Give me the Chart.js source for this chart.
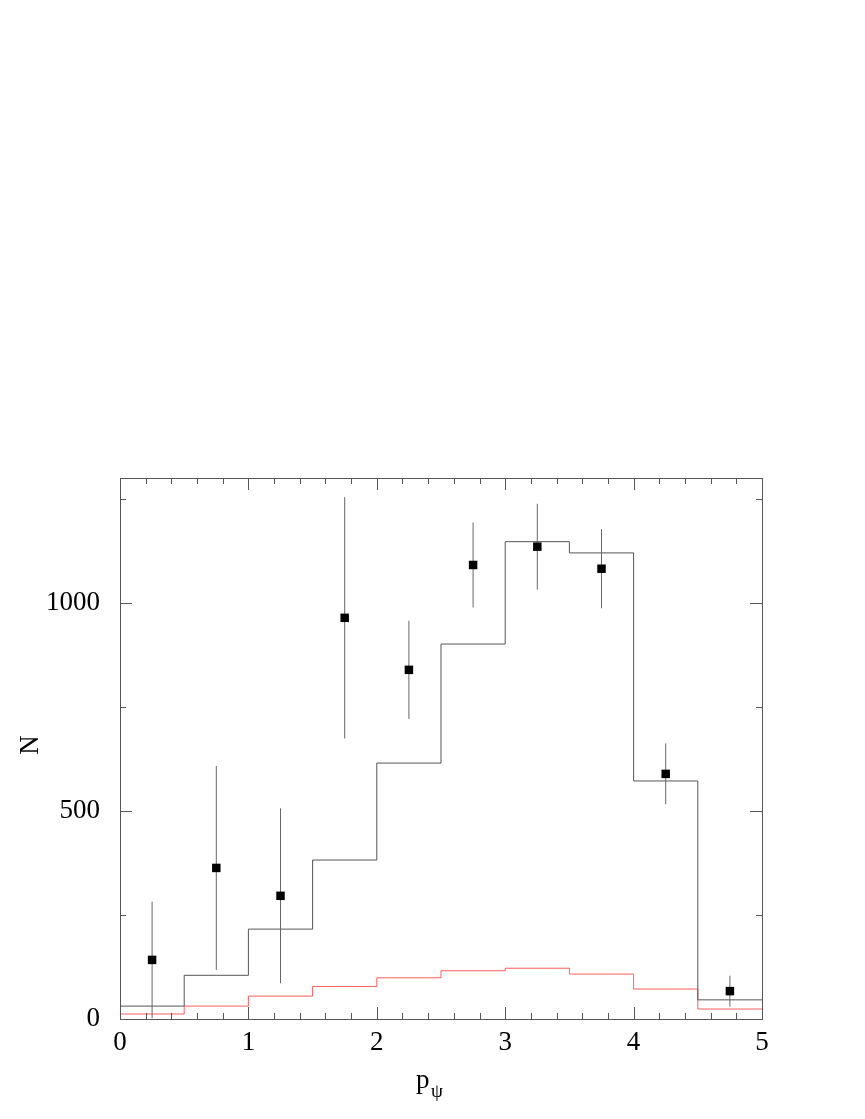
<!DOCTYPE html>
<html>
<head>
<meta charset="utf-8">
<script src="https://cdn.jsdelivr.net/npm/chart.js@4"></script>
<style>
  body { margin: 0; background: #fff; }
  canvas { display: block; }
</style>
</head>
<body>
<canvas id="psiChart" width="865" height="1119"></canvas>
<script>
// bin edges (GeV) and measured points
var binEdges = [0, 0.5, 1, 1.5, 2, 2.5, 3, 3.5, 4, 4.5, 5];
var dataX = [0.25, 0.75, 1.25, 1.75, 2.25, 2.75, 3.25, 3.75, 4.25, 4.75];
var dataY = [142, 363, 296, 964, 839, 1091, 1135, 1082, 589, 67];
var dataErr = [140, 245, 210, 290, 118, 102, 103, 95, 73, 37];
// histograms, one value per bin
var mcTotal = [31, 105, 216, 382, 615, 901, 1147, 1120, 572, 46];
var mcRed = [12, 31, 55, 78, 99, 116, 122, 108, 72, 24];
var xTicks = [0, 1, 2, 3, 4, 5];
var yTicks = [0, 500, 1000];

var serif = "'Liberation Serif', 'DejaVu Serif', serif";

function histPoints(vals) {
    var pts = [];
    for (var i = 0; i < vals.length; i++) {
        pts.push({ x: binEdges[i], y: vals[i] });
    }
    pts.push({ x: binEdges[binEdges.length - 1], y: vals[vals.length - 1] });
    return pts;
}

var errPts = [];
for (var i = 0; i < dataX.length; i++) {
    errPts.push({ x: dataX[i], y: Math.max(0, dataY[i] - dataErr[i]) });
    errPts.push({ x: dataX[i], y: dataY[i] + dataErr[i] });
    errPts.push({ x: dataX[i], y: null });
}

var markPts = dataX.map(function (x, i) { return { x: x, y: dataY[i] }; });

// frame, inside ticks on all sides, axis titles
var framePlugin = {
    id: 'frame',
    afterDraw: function (chart) {
        var c = chart.ctx, a = chart.chartArea;
        var xs = chart.scales.x, ys = chart.scales.y;
        c.save();
        c.strokeStyle = '#555';
        c.lineWidth = 1;
        c.strokeRect(a.left + 0.5, a.top + 0.5, a.right - a.left, a.bottom - a.top);
        c.beginPath();
        for (var v = 0; v <= 5.0001; v += 0.2) {
            var px = Math.round(xs.getPixelForValue(v)) + 0.5;
            var len = Math.abs(v - Math.round(v)) < 0.01 ? 12 : 6;
            c.moveTo(px, a.bottom); c.lineTo(px, a.bottom - len);
            c.moveTo(px, a.top); c.lineTo(px, a.top + len);
        }
        for (var n = 0; n <= 1300; n += 250) {
            var py = Math.round(ys.getPixelForValue(n)) + 0.5;
            var l2 = n % 500 === 0 ? 12 : 6;
            c.moveTo(a.left, py); c.lineTo(a.left + l2, py);
            c.moveTo(a.right, py); c.lineTo(a.right - l2, py);
        }
        c.stroke();

        c.fillStyle = '#000';
        c.textBaseline = 'alphabetic';
        c.textAlign = 'left';
        c.font = '27px ' + serif;
        c.fillText('p', 416, 1088);
        c.font = '19px ' + serif;
        c.fillText('\u03c8', 431, 1097);

        c.font = '27px ' + serif;
        c.translate(38, 745);
        c.rotate(-Math.PI / 2);
        c.textAlign = 'center';
        c.fillText('N', 0, 0);
        c.restore();
    }
};

var ctx = document.getElementById('psiChart').getContext('2d');
var psiChart = new Chart(ctx, {
    type: 'line',
    data: {
        datasets: [{
            label: 'data',
            data: markPts,
            showLine: false,
            pointStyle: 'rect',
            pointRadius: 6,
            pointBackgroundColor: '#000',
            pointBorderColor: '#000',
            pointBorderWidth: 0
        }, {
            label: 'errors',
            data: errPts,
            borderColor: '#666',
            borderWidth: 1,
            pointRadius: 0,
            spanGaps: false,
            fill: false
        }, {
            label: 'total',
            data: histPoints(mcTotal),
            stepped: 'before',
            borderColor: '#555',
            borderWidth: 1,
            pointRadius: 0,
            fill: false
        }, {
            label: 'red',
            data: histPoints(mcRed),
            stepped: 'before',
            borderColor: 'rgba(255, 40, 40, 0.75)',
            borderWidth: 1,
            pointRadius: 0,
            fill: false
        }]
    },
    options: {
        responsive: false,
        animation: false,
        layout: { padding: { top: 478, right: 103, left: 0, bottom: 0 } },
        plugins: {
            legend: { display: false },
            tooltip: { enabled: false }
        },
        scales: {
            x: {
                type: 'linear',
                min: 0,
                max: 5,
                afterFit: function (s) { s.height = 100; },
                afterBuildTicks: function (s) { s.ticks = xTicks.map(function (v) { return { value: v }; }); },
                grid: { display: false, drawTicks: false },
                border: { display: false },
                ticks: {
                    color: '#000', padding: 8, maxRotation: 0,
                    font: { family: serif, size: 27 },
                    callback: function (v) { return String(v); }
                }
            },
            y: {
                type: 'linear',
                min: 0,
                max: 1300,
                afterFit: function (s) { s.width = 120; },
                afterBuildTicks: function (s) { s.ticks = yTicks.map(function (v) { return { value: v }; }); },
                grid: { display: false, drawTicks: false },
                border: { display: false },
                ticks: {
                    color: '#000', padding: 20,
                    font: { family: serif, size: 27 },
                    callback: function (v) { return String(v); }
                }
            }
        }
    },
    plugins: [framePlugin]
});
</script>
</body>
</html>
